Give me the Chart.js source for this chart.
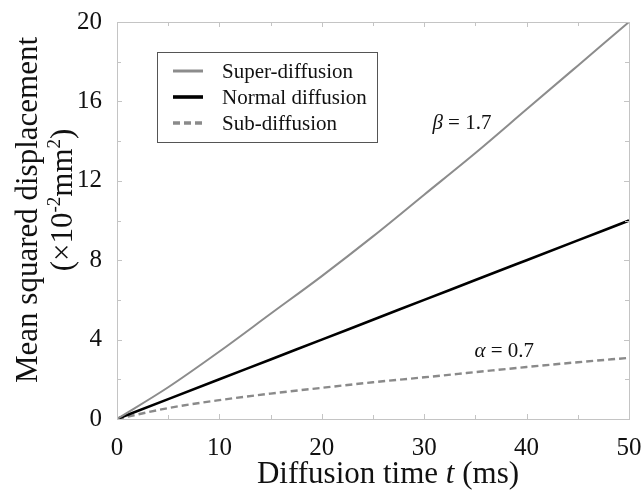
<!DOCTYPE html>
<html lang="en">
<head>
<meta charset="UTF-8">
<title>Mean squared displacement vs diffusion time</title>
<script src="https://cdn.jsdelivr.net/npm/chart.js@4.4.0/dist/chart.umd.min.js"></script>
<style>
    body { margin: 0; background: #fff; }
    #wrap { width: 642px; height: 497px; }
</style>
</head>
<body>
<div id="wrap"><canvas id="msdChart"></canvas></div>
<script>
// values (x 10^-2 mm^2)
const times      = [0, 5, 10, 15, 20, 25, 30, 35, 40, 45, 50];
const superDiff  = [0, 1.6, 3.4, 5.3, 7.2, 9.2, 11.3, 13.4, 15.6, 17.8, 20];
const normalDiff = [0, 1, 2, 3, 4, 5, 6, 7, 8, 9, 10];
const subDiff    = [0, 0.55, 0.95, 1.28, 1.57, 1.85, 2.1, 2.36, 2.62, 2.86, 3.08];
const seriesNames = ['Super-diffusion', 'Normal diffusion', 'Sub-diffusion'];
const xTicks = [0, 10, 20, 30, 40, 50];
const yTicks = [0, 4, 8, 12, 16, 20];
const betaLabel = {t: 30.8, y: 14.6, sym: 'β', text: ' = 1.7'};
const alphaLabel = {t: 34.9, y: 3.1, sym: 'α', text: ' = 0.7'};

const SERIF = 'Liberation Serif';
Chart.defaults.font.family = SERIF;

function pts(vals) {
    return times.map((t, i) => ({x: t, y: vals[i]}));
}

const decor = {
    id: 'decor',
    afterDraw(chart) {
        const ctx = chart.ctx;
        const a = chart.chartArea;
        const xs = chart.scales.x, ys = chart.scales.y;
        ctx.save();

        // frame
        ctx.strokeStyle = '#c4c4c4';
        ctx.lineWidth = 1;
        ctx.strokeRect(Math.round(a.left) + 0.5, Math.round(a.top) + 0.5,
            Math.round(a.right - a.left), Math.round(a.bottom - a.top));

        // inward ticks, minor ones in between
        ctx.beginPath();
        for (let v = xs.min; v <= xs.max; v += 5) {
            const px = Math.round(xs.getPixelForValue(v)) + 0.5;
            const len = xTicks.includes(v) ? 5 : 4;
            ctx.moveTo(px, a.bottom); ctx.lineTo(px, a.bottom - len);
            ctx.moveTo(px, a.top); ctx.lineTo(px, a.top + len);
        }
        for (let v = ys.min; v <= ys.max; v += 2) {
            const py = Math.round(ys.getPixelForValue(v)) + 0.5;
            const len = yTicks.includes(v) ? 5 : 4;
            ctx.moveTo(a.left, py); ctx.lineTo(a.left + len, py);
            ctx.moveTo(a.right, py); ctx.lineTo(a.right - len, py);
        }
        ctx.stroke();

        ctx.fillStyle = '#111';
        ctx.textBaseline = 'alphabetic';

        // x title with italic t
        const parts = [['Diffusion time ', 'normal'], ['t', 'italic'], [' (ms)', 'normal']];
        let total = 0;
        parts.forEach(p => { ctx.font = p[1] + ' 31px "' + SERIF + '"'; total += ctx.measureText(p[0]).width; });
        let x0 = 388 - total / 2;
        ctx.textAlign = 'left';
        parts.forEach(p => {
            ctx.font = p[1] + ' 31px "' + SERIF + '"';
            ctx.fillText(p[0], x0, 483);
            x0 += ctx.measureText(p[0]).width;
        });

        // y title, two lines
        ctx.save();
        ctx.translate(37, 210);
        ctx.rotate(-Math.PI / 2);
        ctx.textAlign = 'center';
        ctx.font = '31px "' + SERIF + '"';
        ctx.fillText('Mean squared displacement', 0, 0);
        ctx.restore();

        ctx.save();
        ctx.translate(72, 200);
        ctx.rotate(-Math.PI / 2);
        ctx.textAlign = 'left';
        const seg = [['(×10', 31, 0], ['-2', 19, -12], ['mm', 31, 0], ['2', 19, -12], [')', 31, 0]];
        let w = 0;
        seg.forEach(s => { ctx.font = s[1] + 'px "' + SERIF + '"'; w += ctx.measureText(s[0]).width; });
        let sx = -w / 2;
        seg.forEach(s => {
            ctx.font = s[1] + 'px "' + SERIF + '"';
            ctx.fillText(s[0], sx, s[2]);
            sx += ctx.measureText(s[0]).width;
        });
        ctx.restore();

        // curve labels
        [betaLabel, alphaLabel].forEach(l => {
            let lx = xs.getPixelForValue(l.t);
            const ly = ys.getPixelForValue(l.y);
            ctx.font = 'italic 21px "' + SERIF + '"';
            ctx.fillText(l.sym, lx, ly);
            lx += ctx.measureText(l.sym).width;
            ctx.font = '21px "' + SERIF + '"';
            ctx.fillText(l.text, lx, ly);
        });

        // legend box
        ctx.strokeStyle = '#555';
        ctx.lineWidth = 1;
        ctx.strokeRect(157.5, 52.5, 220, 90);
        ctx.font = '21px "' + SERIF + '"';
        chart.data.datasets.forEach((ds, i) => {
            const ry = 71 + i * 26;
            ctx.strokeStyle = ds.borderColor;
            ctx.lineWidth = ds.borderWidth + 1;
            ctx.setLineDash(ds.borderDash || []);
            ctx.beginPath();
            ctx.moveTo(173, ry); ctx.lineTo(203, ry);
            ctx.stroke();
            ctx.setLineDash([]);
            ctx.fillText(ds.label, 222, ry + 7);
        });

        ctx.restore();
    }
};

new Chart(document.getElementById('msdChart'), {
    type: 'line',
    data: {
        datasets: [
            {label: seriesNames[0], data: pts(superDiff), borderColor: '#8c8c8c', borderWidth: 2},
            {label: seriesNames[1], data: pts(normalDiff), borderColor: '#000', borderWidth: 2.6},
            {label: seriesNames[2], data: pts(subDiff), borderColor: '#8a8a8a', borderWidth: 2.4, borderDash: [7, 4]}
        ]
    },
    options: {
        responsive: true,
        maintainAspectRatio: false,
        animation: false,
        layout: {padding: {top: 18, right: 0, left: 0, bottom: 0}},
        elements: {point: {radius: 0}, line: {cubicInterpolationMode: 'monotone', fill: false}},
        plugins: {legend: {display: false}, tooltip: {enabled: false}},
        scales: {
            x: {
                type: 'linear', min: 0, max: 50,
                grid: {display: false}, border: {display: false},
                ticks: {stepSize: 10, maxRotation: 0, padding: 6, color: '#111', font: {family: SERIF, size: 25}},
                afterFit(s) { s.height = 78; s.paddingRight = 13; }
            },
            y: {
                min: 0, max: 20,
                grid: {display: false}, border: {display: false},
                ticks: {stepSize: 4, padding: 7, color: '#111', font: {family: SERIF, size: 25}},
                afterFit(s) { s.width = 117; }
            }
        }
    },
    plugins: [decor]
});
</script>
</body>
</html>
